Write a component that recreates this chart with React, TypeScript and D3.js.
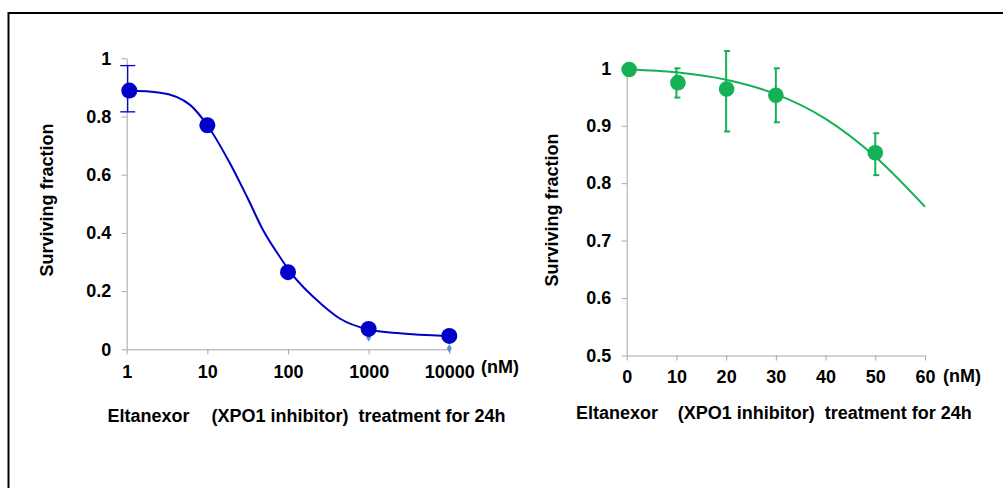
import React, { useRef, useEffect } from 'react';
import * as d3 from 'd3';

// Left panel: log-dose response (Eltanexor, 24h)
const leftDose = [1, 10, 100, 1000, 10000];
const leftSurvival = [0.889, 0.77, 0.265, 0.07, 0.046];
const leftErrTop = [0.975, null, null, null, null];
const leftErrBottom = [0.816, null, null, null, null];
// small leftover markers sitting under the dots
const leftMarkDose = [1000, 10000];
const leftMarkVal = [0.041, 0.003];
// fitted curve
const leftCurveDose = [1, 2.6, 6.1, 10, 19, 31, 49, 79, 107, 273, 444, 1000, 2440, 9230];
const leftCurveVal = [0.889, 0.882, 0.84, 0.77, 0.64, 0.524, 0.41, 0.318, 0.265, 0.15, 0.105, 0.068, 0.055, 0.046];
const leftXTicks = [1, 10, 100, 1000, 10000];
const leftYTicks = [0, 0.2, 0.4, 0.6, 0.8, 1];

// Right panel: linear dose axis
const rightDose = [0.5, 10.3, 20.1, 30, 50];
const rightSurvival = [0.998, 0.975, 0.964, 0.953, 0.853];
const rightErrTop = [null, 1.0, 1.03, 1.0, 0.887];
const rightErrBottom = [null, 0.949, 0.89, 0.906, 0.814];
const rightCurveDose = [0.5, 10, 20, 30, 40, 50, 60];
const rightCurveVal = [0.998, 0.993, 0.98, 0.955, 0.912, 0.846, 0.759];
const rightXTicks = [0, 10, 20, 30, 40, 50, 60];
const rightYTicks = [0.5, 0.6, 0.7, 0.8, 0.9, 1];

const FONT = 'Liberation Sans, Arial, sans-serif';
const AXIS_GREY = '#a6a6a6';
const BLUE = '#0000c8';
const GREEN = '#14b155';
const TICK_SIZE = 18;

export default function App() {
  const svgRef = useRef<SVGSVGElement>(null);

  useEffect(() => {
    const svg = d3.select(svgRef.current);
    svg.selectAll('*').remove();

    // outer frame (runs off the right / bottom edge)
    svg.append('rect')
      .attr('x', 8.5).attr('y', 13)
      .attr('width', 1100).attr('height', 600)
      .attr('fill', 'none')
      .attr('stroke', '#000')
      .attr('stroke-width', 2);

    const styleAxis = (g, fontSize) => {
      g.attr('color', AXIS_GREY);
      g.selectAll('.tick text')
        .attr('fill', '#000')
        .attr('font-size', fontSize)
        .attr('font-weight', 'bold')
        .attr('font-family', FONT);
    };

    const label = (x, y, txt, size, anchor = 'start', rotate = false) => {
      const t = svg.append('text')
        .attr('x', x).attr('y', y)
        .attr('fill', '#000')
        .attr('font-size', size)
        .attr('font-weight', 'bold')
        .attr('font-family', FONT)
        .attr('text-anchor', anchor)
        .text(txt);
      if (rotate) t.attr('transform', `rotate(-90,${x},${y})`);
      return t;
    };

    // ---------- left panel ----------
    const xL = d3.scaleLog().domain([1, 10000]).range([126.7, 449.3]);
    const yL = d3.scaleLinear().domain([0, 1]).range([349.3, 58.3]);

    svg.append('g')
      .attr('transform', `translate(0,${yL(0)})`)
      .call(d3.axisBottom(xL).tickValues(leftXTicks).tickFormat(d3.format('d')).tickSize(5).tickSizeOuter(0).tickPadding(10.5))
      .call(g => styleAxis(g, TICK_SIZE));

    svg.append('g')
      .attr('transform', `translate(${xL(1)},0)`)
      .call(d3.axisLeft(yL).tickValues(leftYTicks).tickFormat(d => `${d}`).tickSize(5).tickSizeOuter(0).tickPadding(10.5))
      .call(g => styleAxis(g, TICK_SIZE));

    const lineL = d3.line<number>()
      .x((d, i) => xL(leftCurveDose[i]))
      .y(d => yL(d))
      .curve(d3.curveMonotoneX);
    svg.append('path')
      .datum(leftCurveVal)
      .attr('fill', 'none')
      .attr('stroke', BLUE)
      .attr('stroke-width', 2)
      .attr('d', lineL);

    // error bars (only first one is visible)
    leftDose.forEach((d, i) => {
      if (leftErrTop[i] == null) return;
      const cx = xL(d) + 1;
      const g = svg.append('g').attr('stroke', BLUE).attr('stroke-width', 1.3);
      g.append('line').attr('x1', cx).attr('x2', cx).attr('y1', yL(leftErrTop[i])).attr('y2', yL(leftErrBottom[i]));
      g.append('line').attr('x1', cx - 7.5).attr('x2', cx + 7.5).attr('y1', yL(leftErrTop[i])).attr('y2', yL(leftErrTop[i]));
      g.append('line').attr('x1', cx - 7.5).attr('x2', cx + 7.5).attr('y1', yL(leftErrBottom[i])).attr('y2', yL(leftErrBottom[i]));
    });

    svg.append('g')
      .selectAll('path')
      .data(leftMarkDose)
      .join('path')
      .attr('transform', (d, i) => `translate(${xL(d)},${yL(leftMarkVal[i])})`)
      .attr('d', d3.symbol(d3.symbolDiamond, 22))
      .attr('fill', '#5b8fd6');

    svg.append('g')
      .selectAll('circle')
      .data(leftSurvival)
      .join('circle')
      .attr('cx', (d, i) => xL(leftDose[i]) + (i === 0 ? 2.6 : 0))
      .attr('cy', d => yL(d))
      .attr('r', 8)
      .attr('fill', BLUE);

    label(481, 373, '(nM)', 18);
    label(46.7, 200, 'Surviving fraction', 18, 'middle', true).attr('dy', '0.35em');
    label(107.5, 421.5, 'Eltanexor', 18);
    label(211.5, 421.5, '(XPO1 inhibitor)  treatment for 24h', 18)
      .attr('xml:space', 'preserve')
      .style('white-space', 'pre');

    // ---------- right panel ----------
    const xR = d3.scaleLinear().domain([0, 60]).range([626.7, 925]);
    const yR = d3.scaleLinear().domain([0.5, 1]).range([355.5, 68.3]);

    svg.append('g')
      .attr('transform', `translate(0,${yR(0.5)})`)
      .call(d3.axisBottom(xR).tickValues(rightXTicks).tickSize(5).tickSizeOuter(0).tickPadding(9.5))
      .call(g => styleAxis(g, TICK_SIZE));

    svg.append('g')
      .attr('transform', `translate(${xR(0)},0)`)
      .call(d3.axisLeft(yR).tickValues(rightYTicks).tickFormat(d => `${d}`).tickSize(5).tickSizeOuter(0).tickPadding(10.5))
      .call(g => styleAxis(g, TICK_SIZE));

    const lineR = d3.line<number>()
      .x((d, i) => xR(rightCurveDose[i]))
      .y(d => yR(d))
      .curve(d3.curveMonotoneX);
    svg.append('path')
      .datum(rightCurveVal)
      .attr('fill', 'none')
      .attr('stroke', GREEN)
      .attr('stroke-width', 2)
      .attr('d', lineR);

    rightDose.forEach((d, i) => {
      if (rightErrTop[i] == null) return;
      const cx = xR(Math.round(d));
      const g = svg.append('g').attr('stroke', GREEN).attr('stroke-width', 2);
      g.append('line').attr('x1', cx).attr('x2', cx).attr('y1', yR(rightErrTop[i])).attr('y2', yR(rightErrBottom[i]));
      g.append('line').attr('x1', cx - 2).attr('x2', cx + 4).attr('y1', yR(rightErrTop[i])).attr('y2', yR(rightErrTop[i]));
      g.append('line').attr('x1', cx - 2).attr('x2', cx + 4).attr('y1', yR(rightErrBottom[i])).attr('y2', yR(rightErrBottom[i]));
    });

    svg.append('g')
      .selectAll('circle')
      .data(rightSurvival)
      .join('circle')
      .attr('cx', (d, i) => xR(rightDose[i]))
      .attr('cy', d => yR(d))
      .attr('r', 7.8)
      .attr('fill', GREEN);

    label(943, 382, '(nM)', 18);
    label(551.7, 210, 'Surviving fraction', 18, 'middle', true).attr('dy', '0.35em');
    label(576, 419, 'Eltanexor', 18);
    label(677.7, 419, '(XPO1 inhibitor)  treatment for 24h', 18)
      .attr('xml:space', 'preserve')
      .style('white-space', 'pre');
  }, []);

  return (
    <svg
      ref={svgRef}
      width={1003}
      height={488}
      style={{ position: 'absolute', left: 0, top: 0, display: 'block', background: '#fff' }}
    />
  );
}
